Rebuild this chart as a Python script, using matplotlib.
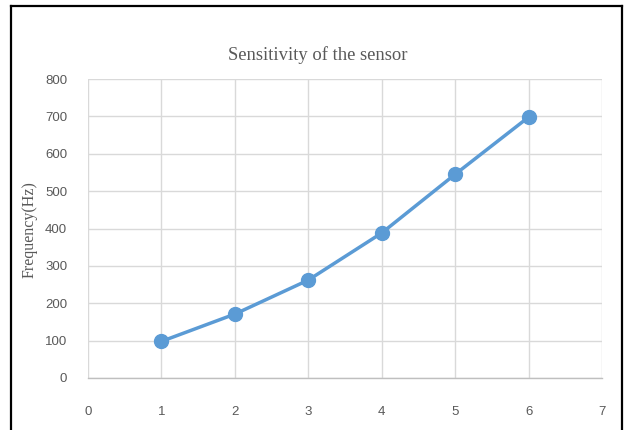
import matplotlib
matplotlib.use("Agg")
import matplotlib.pyplot as plt
from matplotlib.lines import Line2D

x_values = [1, 2, 3, 4, 5, 6]
frequency_hz = [98, 171, 262, 388, 545, 698]
x_ticks = [0, 1, 2, 3, 4, 5, 6, 7]
y_ticks = [0, 100, 200, 300, 400, 500, 600, 700, 800]
title = "Sensitivity of the sensor"
y_label = "Frequency(Hz)"

W, H = 625, 430
fig = plt.figure(figsize=(W / 100, H / 100), dpi=100)
ax = fig.add_axes([88 / W, 1 - 378 / H, (602 - 88) / W, (378 - 79) / H])

ax.plot(x_values, frequency_hz, color="#5B9BD5", linewidth=2.5,
        marker="o", markersize=10, markerfacecolor="#5B9BD5",
        markeredgecolor="#5B9BD5", zorder=3)

ax.set_xlim(0, 7)
ax.set_ylim(0, 800)
ax.set_xticks(x_ticks)
ax.set_yticks(y_ticks)
ax.grid(True, color="#D9D9D9", linewidth=1.0)
ax.set_axisbelow(True)
for s in ["top", "right", "left"]:
    ax.spines[s].set_visible(False)
ax.spines["bottom"].set_color("#BFBFBF")
ax.spines["bottom"].set_linewidth(1.0)
ax.tick_params(length=0, labelsize=9.5, colors="#595959")
ax.tick_params(axis="x", pad=20)
ax.tick_params(axis="y", pad=15)
tick_font = ["Liberation Sans", "DejaVu Sans"]
for lab in ax.get_xticklabels() + ax.get_yticklabels():
    lab.set_fontfamily(tick_font)

fig.text(318 / W, 1 - 55 / H, title, ha="center", va="center",
         fontsize=13.4, color="#595959", family=["Liberation Serif", "DejaVu Serif"])
fig.text(30 / W, 1 - 230 / H, y_label, ha="center", va="center", rotation=90,
         fontsize=11.5, color="#595959", family=["Liberation Serif", "DejaVu Serif"])

# outer border (left, top, right)
fig.add_artist(Line2D([11 / W, 11 / W], [0, 1 - 6 / H], transform=fig.transFigure, color="black", linewidth=1.6))
fig.add_artist(Line2D([11 / W, 622 / W], [1 - 6 / H, 1 - 6 / H], transform=fig.transFigure, color="black", linewidth=1.6))
fig.add_artist(Line2D([622 / W, 622 / W], [0, 1 - 6 / H], transform=fig.transFigure, color="black", linewidth=1.6))

fig.savefig("out.png", dpi=100)
